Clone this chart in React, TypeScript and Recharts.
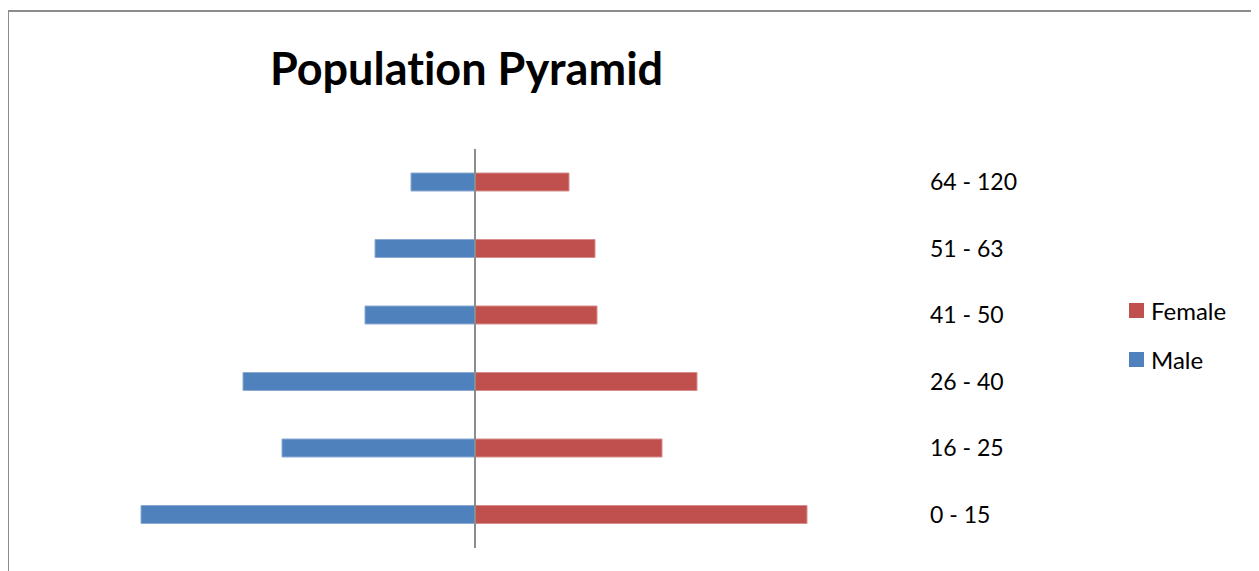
import { BarChart, Bar, XAxis, YAxis, ReferenceLine, Legend } from "recharts";

const AGE_GROUPS = ["0 - 15", "16 - 25", "26 - 40", "41 - 50", "51 - 63", "64 - 120"];
const MALE = [334, 193, 232, 110, 100, 64];
const FEMALE = [332, 187, 222, 122, 120, 94];

const MALE_COLOR = "#4F81BD";
const FEMALE_COLOR = "#C0504D";
const FONT = "Lato, 'Open Sans', sans-serif";

const data = AGE_GROUPS.map((age, i) => ({ age, male: -MALE[i], female: FEMALE[i] }));

function PyramidLegend() {
  const items = [
    { name: "Female", color: FEMALE_COLOR },
    { name: "Male", color: MALE_COLOR },
  ];
  return (
    <div style={{ fontFamily: FONT }}>
      {items.map((it) => (
        <div key={it.name} style={{ display: "flex", alignItems: "center", height: 49 }}>
          <span style={{ width: 15, height: 15, background: it.color, display: "inline-block", marginRight: 7 }} />
          <span style={{ fontSize: 24, color: "#000" }}>{it.name}</span>
        </div>
      ))}
    </div>
  );
}

export default function App() {
  return (
    <div style={{ position: "relative", width: 1259, height: 571, margin: "-8px 0 0 -8px", background: "#fff", overflow: "hidden" }}>
      <div style={{ position: "absolute", left: 7, top: 10, width: 1246, height: 580, border: "2px solid #8c8c8c" }} />
      <div style={{ position: "absolute", left: 0, width: 933, top: 41, textAlign: "center", fontFamily: FONT, fontWeight: 700, fontSize: 45, fontVariantLigatures: "none" }}>
        Population Pyramid
      </div>
      <div style={{ position: "absolute", left: 0, top: 0 }}>
        <BarChart width={1259} height={571} data={data} layout="vertical" stackOffset="sign" barSize={18}
          margin={{ top: 149, bottom: 23, left: 125, right: 0 }}>
          <XAxis type="number" domain={[-350, 350]} hide />
          <YAxis type="category" dataKey="age" orientation="right" reversed width={434} axisLine={false} tickLine={false}
            tickSize={0} tickMargin={105} interval={0}
            tick={{ fill: "#000", fontSize: 23, fontFamily: FONT, textAnchor: "start" }} />
          <Bar dataKey="male" name="Male" stackId="a" fill={MALE_COLOR} stroke="#8eaad3" strokeWidth={1} isAnimationActive={false} />
          <Bar dataKey="female" name="Female" stackId="a" fill={FEMALE_COLOR} stroke="#d68e8c" strokeWidth={1} isAnimationActive={false} />
          <ReferenceLine x={0} stroke="#8c8c8c" strokeWidth={2} />
          <Legend content={<PyramidLegend />} layout="horizontal" verticalAlign="middle" align="center"
            wrapperStyle={{ left: 1129, top: 286, width: 130 }} />
        </BarChart>
      </div>
    </div>
  );
}
